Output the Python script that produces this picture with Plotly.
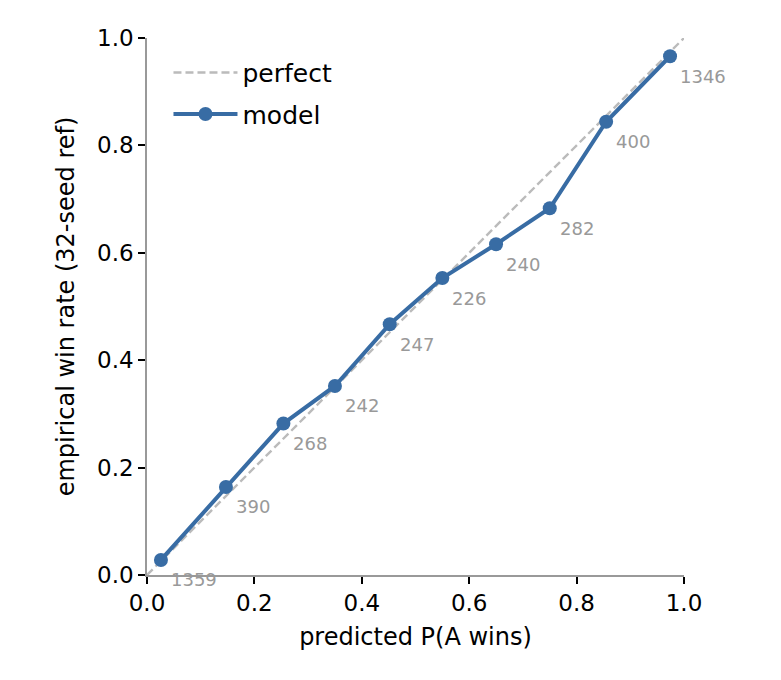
import plotly.graph_objects as go

# calibration bins: predicted vs empirical win rate, and bin counts
pred = [0.026, 0.147, 0.254, 0.350, 0.452, 0.550, 0.650, 0.750, 0.855, 0.974]
emp = [0.028, 0.164, 0.282, 0.352, 0.467, 0.553, 0.616, 0.683, 0.844, 0.966]
counts = [1359, 390, 268, 242, 247, 226, 240, 282, 400, 1346]
diag = [0.0, 1.0]
ticks = [0.0, 0.2, 0.4, 0.6, 0.8, 1.0]

FONT = "DejaVu Sans"
BLUE = "#386ca4"

fig = go.Figure()

fig.add_trace(go.Scatter(
    x=diag, y=diag,
    mode="lines",
    line=dict(color="#bbbbbb", width=2.4, dash="8px,4px"),
    name="perfect",
    legendgroup="a",
))

fig.add_trace(go.Scatter(
    x=pred, y=emp,
    mode="lines+markers",
    line=dict(color=BLUE, width=4),
    marker=dict(color=BLUE, size=14),
    name="model",
    legendgroup="b",
))

for px, py, n in zip(pred, emp, counts):
    fig.add_annotation(
        x=px, y=py, text=str(n),
        showarrow=False,
        xanchor="left", yanchor="middle",
        xshift=8, yshift=-20,
        font=dict(family=FONT, size=18, color="#999999"),
    )

# page has an 8px body margin, so the figure is shrunk by that much
fig.update_layout(
    width=773, height=672,
    margin=dict(l=139, r=97, t=30, b=105),
    plot_bgcolor="white",
    paper_bgcolor="white",
    font=dict(family=FONT, size=23, color="black"),
    showlegend=True,
    legend=dict(
        x=0.04, y=0.978, xanchor="left", yanchor="top",
        bgcolor="rgba(0,0,0,0)",
        font=dict(family=FONT, size=25),
        itemwidth=64,
        traceorder="grouped",
        tracegroupgap=6,
    ),
)

fig.update_xaxes(
    range=[0, 1], showgrid=False, zeroline=False,
    showline=True, linecolor="#999999", linewidth=1.5,
    ticks="outside", ticklen=7, tickwidth=1.5, tickcolor="black",
    tickvals=ticks, tickformat=".1f",
    tickfont=dict(size=23),
    title=dict(text="predicted P(A wins)", font=dict(size=24), standoff=13),
)
fig.update_yaxes(
    range=[0, 1], showgrid=False, zeroline=False,
    showline=True, linecolor="#999999", linewidth=1.5,
    ticks="outside", ticklen=7, tickwidth=1.5, tickcolor="black",
    tickvals=ticks, tickformat=".1f",
    tickfont=dict(size=23),
    title=dict(text="empirical win rate (32-seed ref)", font=dict(size=24), standoff=16),
)

fig.write_html("out.html")
